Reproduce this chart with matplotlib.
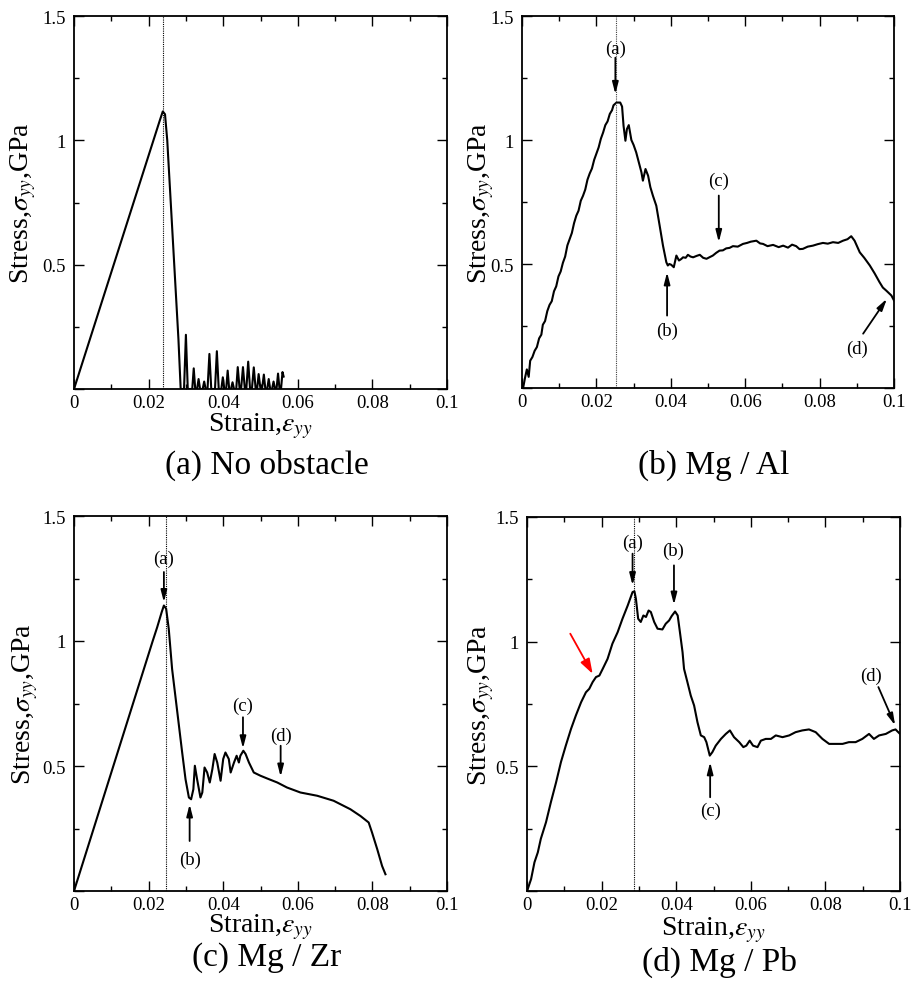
import matplotlib
matplotlib.use("Agg")
import matplotlib.pyplot as plt

plt.rcParams["font.family"] = ["Liberation Serif", "DejaVu Serif"]
plt.rcParams["mathtext.fontset"] = "stix"

# ---- data -------------------------------------------------------------------
# (a) no obstacle
a_strain = [0.0, 0.0230, 0.0238, 0.0244, 0.0250, 0.0265, 0.0280, 0.0286,
            0.0295, 0.0300, 0.0305, 0.0317, 0.0321, 0.0325, 0.0330, 0.0334, 0.0338,
            0.0345, 0.0349, 0.0353, 0.0358, 0.0363, 0.0368, 0.0378, 0.0383, 0.0388,
            0.0395, 0.0399, 0.0403, 0.0408, 0.0412, 0.0416, 0.0421, 0.0425, 0.0429,
            0.0435, 0.0439, 0.0444, 0.0448, 0.0453, 0.0458, 0.0462, 0.0467, 0.0472,
            0.0477, 0.0482, 0.0487, 0.0491, 0.0495, 0.0500, 0.0504, 0.0509, 0.0513,
            0.0518, 0.0522, 0.0526, 0.0531, 0.0535, 0.0539, 0.0543, 0.0547, 0.0551,
            0.0555, 0.0559, 0.0562]
a_stress = [0.0, 1.08, 1.116, 1.105, 1.0, 0.6, 0.2, 0.0,
            0.0, 0.218, 0.0, 0.0, 0.083, 0.0, 0.0, 0.040, 0.0,
            0.0, 0.030, 0.0, 0.0, 0.141, 0.0, 0.0, 0.152, 0.0,
            0.0, 0.047, 0.0, 0.0, 0.074, 0.0, 0.0, 0.027, 0.0,
            0.0, 0.088, 0.0, 0.0, 0.088, 0.0, 0.0, 0.110, 0.0,
            0.0, 0.087, 0.0, 0.0, 0.060, 0.0, 0.0, 0.058, 0.0,
            0.0, 0.040, 0.0, 0.0, 0.030, 0.0, 0.0, 0.062, 0.0,
            0.0, 0.068, 0.05]

# (b) Mg / Al
b_strain = [0.0003, 0.0008, 0.0013, 0.0018, 0.0022, 0.0028, 0.0034, 0.0040, 0.0046,
            0.0052, 0.0056, 0.0062, 0.0068, 0.0074, 0.0080, 0.0086, 0.0092, 0.0098,
            0.0104, 0.0110, 0.0116, 0.0122, 0.0128, 0.0134, 0.0140, 0.0146, 0.0152,
            0.0158, 0.0164, 0.0170, 0.0176, 0.0182, 0.0188, 0.0194, 0.0200, 0.0206,
            0.0212, 0.0218, 0.0224, 0.0230, 0.0236, 0.0242, 0.0246, 0.0254, 0.0264,
            0.0269, 0.0273, 0.0278, 0.0282, 0.0287, 0.0294, 0.0300, 0.0307, 0.0314,
            0.0321, 0.0325, 0.0332, 0.0339, 0.0345, 0.0352, 0.0361, 0.0370, 0.0379,
            0.0388, 0.0392, 0.0396, 0.0401, 0.0408, 0.0415, 0.0422, 0.0428, 0.0433,
            0.0440, 0.0446, 0.0453, 0.0460, 0.0470, 0.0478, 0.0487, 0.0496, 0.0505,
            0.0513, 0.0522, 0.0531, 0.0540, 0.0549, 0.0558, 0.0567, 0.0580, 0.0594,
            0.0605, 0.0615, 0.0630, 0.0640, 0.0648, 0.0660, 0.0675, 0.0690, 0.0702,
            0.0715, 0.0726, 0.0737, 0.0746, 0.0755, 0.0768, 0.0782, 0.0795, 0.0809,
            0.0822, 0.0836, 0.0850, 0.0863, 0.0875, 0.0885, 0.0894, 0.0908, 0.0920,
            0.0935, 0.0948, 0.0961, 0.0970, 0.0979, 0.0993, 0.1000]
b_stress = [0.0, 0.04, 0.075, 0.045, 0.11, 0.125, 0.15, 0.165, 0.20,
            0.215, 0.255, 0.27, 0.31, 0.335, 0.35, 0.39, 0.41, 0.45,
            0.47, 0.505, 0.53, 0.575, 0.60, 0.625, 0.665, 0.695, 0.715,
            0.755, 0.775, 0.80, 0.84, 0.865, 0.885, 0.92, 0.945, 0.97,
            1.005, 1.03, 1.06, 1.075, 1.105, 1.12, 1.14, 1.151, 1.151,
            1.135, 1.057, 0.997, 1.044, 1.06, 1.0, 0.98, 0.95, 0.91,
            0.87, 0.836, 0.883, 0.856, 0.81, 0.775, 0.735, 0.655, 0.574,
            0.507, 0.494, 0.50, 0.497, 0.487, 0.534, 0.514, 0.52, 0.527,
            0.525, 0.537, 0.530, 0.527, 0.533, 0.537, 0.525, 0.521, 0.528,
            0.534, 0.545, 0.554, 0.555, 0.563, 0.565, 0.572, 0.570, 0.581,
            0.585, 0.590, 0.594, 0.583, 0.581, 0.572, 0.577, 0.568, 0.574,
            0.566, 0.578, 0.572, 0.560, 0.561, 0.570, 0.574, 0.580, 0.585,
            0.582, 0.588, 0.585, 0.594, 0.600, 0.612, 0.594, 0.547, 0.525,
            0.494, 0.462, 0.427, 0.405, 0.393, 0.373, 0.353]

# (c) Mg / Zr
c_strain = [0.0, 0.0211, 0.0223, 0.0235, 0.0241, 0.0247, 0.0254, 0.0263, 0.0277,
            0.0290, 0.0299, 0.0308, 0.0314, 0.0320, 0.0324, 0.0330, 0.0339, 0.0344,
            0.0350, 0.0357, 0.0364, 0.0371, 0.0377, 0.0384, 0.0393, 0.0400, 0.0406,
            0.0415, 0.0420, 0.0429, 0.0436, 0.0442, 0.0446, 0.0454, 0.0460, 0.0469,
            0.0482, 0.0500, 0.0518, 0.0545, 0.0571, 0.0607, 0.0652, 0.0696, 0.0741,
            0.0768, 0.0790, 0.0799, 0.0813, 0.0826, 0.0835]
c_stress = [0.0, 1.0, 1.055, 1.115, 1.142, 1.129, 1.049, 0.888, 0.715,
            0.554, 0.447, 0.374, 0.367, 0.407, 0.501, 0.447, 0.374, 0.394,
            0.494, 0.474, 0.434, 0.488, 0.548, 0.514, 0.441, 0.528, 0.554,
            0.528, 0.474, 0.514, 0.541, 0.514, 0.541, 0.561, 0.548, 0.514,
            0.474, 0.461, 0.450, 0.434, 0.414, 0.394, 0.381, 0.361, 0.327,
            0.300, 0.274, 0.234, 0.167, 0.100, 0.067]

# (d) Mg / Pb
d_strain = [0.0002, 0.0011, 0.0020, 0.0029, 0.0037, 0.0051, 0.0064, 0.0078, 0.0091,
            0.0104, 0.0118, 0.0131, 0.0145, 0.0158, 0.0167, 0.0176, 0.0185, 0.0194,
            0.0203, 0.0216, 0.0229, 0.0243, 0.0256, 0.0270, 0.0283, 0.0288, 0.0292,
            0.0298, 0.0305, 0.0312, 0.0319, 0.0326, 0.0332, 0.0341, 0.0350, 0.0363,
            0.0372, 0.0381, 0.0388, 0.0397, 0.0404, 0.0410, 0.0417, 0.0421, 0.0430,
            0.0439, 0.0448, 0.0457, 0.0466, 0.0475, 0.0481, 0.0490, 0.0497, 0.0506,
            0.0520, 0.0533, 0.0544, 0.0555, 0.0569, 0.0580, 0.0588, 0.0597, 0.0606,
            0.0618, 0.0627, 0.0640, 0.0654, 0.0667, 0.0685, 0.0703, 0.0720, 0.0738,
            0.0756, 0.0774, 0.0792, 0.0810, 0.0828, 0.0846, 0.0863, 0.0881, 0.0899,
            0.0917, 0.0930, 0.0944, 0.0962, 0.0979, 0.0988, 0.1000]
d_stress = [0.008, 0.048, 0.115, 0.155, 0.209, 0.276, 0.356, 0.436, 0.517,
            0.583, 0.650, 0.704, 0.757, 0.797, 0.811, 0.838, 0.858, 0.864,
            0.891, 0.931, 0.992, 1.038, 1.092, 1.145, 1.199, 1.202, 1.172,
            1.092, 1.079, 1.105, 1.099, 1.125, 1.119, 1.079, 1.052, 1.049,
            1.072, 1.085, 1.103, 1.121, 1.105, 1.038, 0.958, 0.891, 0.838,
            0.784, 0.744, 0.677, 0.624, 0.617, 0.597, 0.543, 0.557, 0.583,
            0.610, 0.630, 0.644, 0.617, 0.597, 0.577, 0.583, 0.603, 0.583,
            0.577, 0.603, 0.610, 0.610, 0.624, 0.617, 0.624, 0.637, 0.644,
            0.648, 0.637, 0.610, 0.590, 0.590, 0.590, 0.597, 0.597, 0.610,
            0.630, 0.610, 0.624, 0.630, 0.644, 0.648, 0.630]

peak_strain = [0.0238, 0.0254, 0.0247, 0.0286]   # dotted guide lines

# annotations: (label, text x, text y, arrow tail, arrow tip)
b_marks = [("(a)", 0.0251, 1.37, (0.0251, 1.332), (0.0251, 1.185)),
           ("(b)", 0.0390, 0.232, (0.0390, 0.292), (0.0390, 0.467)),
           ("(c)", 0.0529, 0.836, (0.0529, 0.776), (0.0529, 0.588)),
           ("(d)", 0.0901, 0.158, (0.0917, 0.219), (0.0981, 0.360))]
c_marks = [("(a)", 0.0241, 1.329, (0.0241, 1.276), (0.0241, 1.155)),
           ("(b)", 0.0310, 0.127, (0.0310, 0.200), (0.0310, 0.347)),
           ("(c)", 0.0453, 0.741, (0.0453, 0.695), (0.0453, 0.570)),
           ("(d)", 0.0554, 0.621, (0.0554, 0.581), (0.0554, 0.457))]
d_marks = [("(a)", 0.0283, 1.400, (0.0283, 1.353), (0.0283, 1.226)),
           ("(b)", 0.0392, 1.366, (0.0394, 1.306), (0.0394, 1.148)),
           ("(c)", 0.0493, 0.322, (0.0491, 0.376), (0.0491, 0.517)),
           ("(d)", 0.0921, 0.864, (0.0942, 0.818), (0.0987, 0.664))]
red_arrow = ((0.0116, 1.032), (0.0176, 0.871))

captions = ["(a) No obstacle", "(b) Mg / Al", "(c) Mg / Zr", "(d) Mg / Pb"]

# ---- figure ------------------------------------------------------------------
fig = plt.figure(figsize=(9.12, 9.87), dpi=100)
W, H = 912.0, 987.0
# axes boxes in pixels: left, top, right, bottom
boxes = [(74, 17, 447, 390), (522, 17, 894, 389),
         (74, 517, 447, 892), (527, 518, 900, 892)]
ylab_x = [-0.097, -0.07, -0.091, -0.083]
xlab_y = [426, None, 927, 930]
cap_y = [465, 465, 958, 962]
series = [(a_strain, a_stress), (b_strain, b_stress),
          (c_strain, c_stress), (d_strain, d_stress)]
marks = [[], b_marks, c_marks, d_marks]

ARROW = dict(arrowstyle="-|>,head_length=0.7,head_width=0.18", color="k",
             lw=1.3, shrinkA=0, shrinkB=0)

for i, (l, t, r, b) in enumerate(boxes):
    ax = fig.add_axes([l / W, 1 - b / H, (r - l) / W, (b - t) / H])
    x, y = series[i]
    ax.plot(x, y, color="k", lw=1.5)
    ax.axvline(peak_strain[i], color="0.25" if i == 1 else "k", lw=0.8, ls=(0, (1, 1)))
    ax.set_xlim(0, 0.1)
    ax.set_ylim(0, 1.5)
    ax.set_xticks([0, 0.02, 0.04, 0.06, 0.08, 0.1])
    ax.set_xticklabels(["0", "0.02", "0.04", "0.06", "0.08", "0.1"])
    ax.set_xticks([0.01, 0.03, 0.05, 0.07, 0.09], minor=True)
    ax.set_yticks([0, 0.5, 1.0, 1.5])
    ax.set_yticklabels(["", "0.5", "1", "1.5"])
    ax.set_yticks([0.25, 0.75, 1.25], minor=True)
    ax.tick_params(which="both", direction="in", top=True, right=True,
                   labelsize=13.5, width=1.0)
    ax.tick_params(which="major", length=7)
    ax.tick_params(which="minor", length=3.5)
    ax.tick_params(axis="y", pad=6)
    for s in ax.spines.values():
        s.set_linewidth(1.3)
    ax.set_ylabel(r"Stress,$\sigma_{yy}$,GPa", fontsize=20)
    ax.yaxis.set_label_coords(ylab_x[i], 0.5)
    if xlab_y[i] is not None:
        fig.text((l + r) / 2 / W, 1 - xlab_y[i] / H, r"Strain,$\varepsilon_{yy}$",
                 fontsize=20, ha="center", va="center")
    fig.text((l + r) / 2 / W + 6 / W, 1 - cap_y[i] / H, captions[i],
             fontsize=24, ha="center", va="center")
    for lab, tx, ty, tail, tip in marks[i]:
        ax.text(tx, ty, lab, fontsize=13.5, ha="center", va="center")
        ax.annotate("", xy=tip, xytext=tail, arrowprops=ARROW)
    if i == 3:
        ax.annotate("", xy=red_arrow[1], xytext=red_arrow[0],
                    arrowprops=dict(arrowstyle="-|>,head_length=0.9,head_width=0.3",
                                    color="red", lw=1.3, shrinkA=0, shrinkB=0))

fig.savefig("out.png", dpi=100)
